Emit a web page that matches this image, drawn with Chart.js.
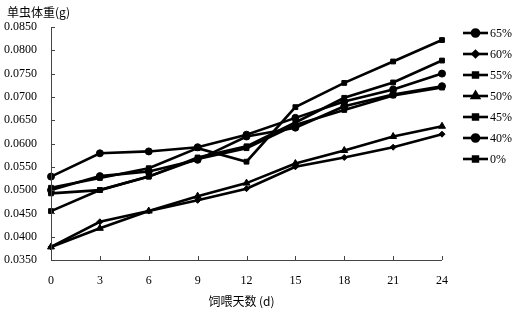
<!DOCTYPE html>
<html><head><meta charset="utf-8">
<script src="https://cdn.jsdelivr.net/npm/chart.js@4/dist/chart.umd.min.js"></script>
<style>html,body{margin:0;padding:0;background:#fff}#wrap{width:517px;height:311px}</style>
</head><body><div id="wrap"><canvas id="c" width="517" height="311"></canvas></div>
<script>
const days = ['0','3','6','9','12','15','18','21','24'];
const yTicks = [0.035,0.04,0.045,0.05,0.055,0.06,0.065,0.07,0.075,0.08,0.085];
const seriesNames = ['65%','60%','55%','50%','45%','40%','0%'];
const s65 = [0.0529,0.0579,0.0583,0.0592,0.0619,0.0655,0.0690,0.0716,0.0750];
const s60 = [0.0378,0.0432,0.0455,0.0478,0.0503,0.0550,0.0570,0.0592,0.0620];
const s55 = [0.0505,0.0526,0.0547,0.0590,0.0561,0.0678,0.0730,0.0776,0.0822];
const s50 = [0.0378,0.0418,0.0455,0.0487,0.0515,0.0557,0.0585,0.0615,0.0637];
const s45 = [0.0455,0.0500,0.0529,0.0570,0.0594,0.0645,0.0698,0.0731,0.0778];
const s40 = [0.0500,0.0530,0.0540,0.0565,0.0615,0.0634,0.0680,0.0705,0.0723];
const s0  = [0.0493,0.0500,0.0529,0.0567,0.0590,0.0640,0.0672,0.0703,0.0720];
const yTitle = '单虫体重(g)';
const xTitle = '饲喂天数 (d)';

const styles = ['circle','rectRot','rect','triangle','rect','circle','rect'];
const radii = [3.5,3,3.4,4,3.4,3.5,3.4];
const values = [s65,s60,s55,s50,s45,s40,s0];
const datasets = values.map((v,i)=>({
  label: seriesNames[i], data: v, borderColor:'#000', backgroundColor:'#000',
  borderWidth:2.6, pointStyle:styles[i], pointRadius:radii[i], pointBorderWidth:1,
  pointBackgroundColor:'#000', pointBorderColor:'#000', tension:0
}));

const serif = '"Liberation Serif","Times New Roman",serif';
const decor = {
  id:'decor',
  afterDraw(chart){
    const ctx = chart.ctx, ca = chart.chartArea;
    const xs = chart.scales.x, ys = chart.scales.y;
    ctx.save();
    ctx.strokeStyle = '#444'; ctx.lineWidth = 1;
    ctx.beginPath();
    ctx.moveTo(ca.left+0.5, ca.top); ctx.lineTo(ca.left+0.5, ca.bottom+0.5);
    ctx.lineTo(ca.right, ca.bottom+0.5);
    ctx.stroke();
    ctx.beginPath();
    yTicks.forEach(t=>{const y=Math.round(ys.getPixelForValue(t))+0.5; ctx.moveTo(ca.left, y); ctx.lineTo(ca.left+4, y);});
    days.forEach((d,i)=>{ if(i===0) return; const x=Math.round(xs.getPixelForValue(i))+0.5; ctx.moveTo(x, ca.bottom); ctx.lineTo(x, ca.bottom-4);});
    ctx.stroke();
    ctx.fillStyle = '#000';
    ctx.font = '12px "Noto Sans CJK SC", sans-serif';
    ctx.textBaseline = 'middle';
    ctx.textAlign = 'left';
    ctx.fillText(yTitle, 7, 12);
    ctx.textAlign = 'center';
    ctx.fillText(xTitle, (ca.left+ca.right)/2 - 5, 301);
    const lx0 = 463, lx1 = 488, ly0 = 33, step = 21;
    chart.data.datasets.forEach((ds,i)=>{
      const y = ly0 + i*step;
      ctx.strokeStyle = '#000'; ctx.lineWidth = 2.6;
      ctx.beginPath(); ctx.moveTo(lx0, y); ctx.lineTo(lx1, y); ctx.stroke();
      Chart.helpers.drawPoint(ctx, {pointStyle: ds.pointStyle, radius: ds.pointRadius, borderWidth:1}, (lx0+lx1)/2, y);
      ctx.fillStyle = '#000';
      ctx.font = '12px ' + serif;
      ctx.textAlign = 'left';
      ctx.fillText(ds.label, lx1+2, y+1);
    });
    ctx.restore();
  }
};

new Chart(document.getElementById('c'), {
  type:'line',
  data:{labels: days, datasets},
  options:{
    responsive:false, animation:false, devicePixelRatio:1,
    layout:{padding:{left:4, right:75, top:27, bottom:0}},
    plugins:{legend:{display:false}, tooltip:{enabled:false}},
    scales:{
      x:{type:'category', offset:false,
         grid:{display:false, drawTicks:false}, border:{display:false},
         ticks:{color:'#000', font:{family:serif, size:12}, padding:14, maxRotation:0},
         afterFit(s){ s.height = 51; }},
      y:{min:0.035, max:0.085,
         grid:{display:false, drawTicks:false}, border:{display:false},
         afterBuildTicks(s){ s.ticks = yTicks.map(v=>({value:v})); },
         ticks:{color:'#000', font:{family:serif, size:12}, padding:14,
                callback:v=>Number(v).toFixed(4)},
         afterFit(s){ s.width = 47; }}
    }
  },
  plugins:[decor]
});
</script></body></html>
